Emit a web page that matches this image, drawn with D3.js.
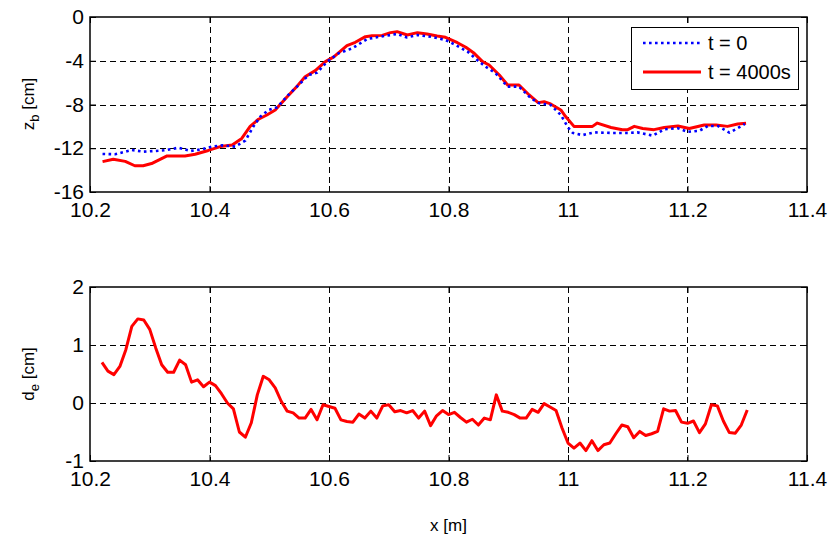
<!DOCTYPE html>
<html><head><meta charset="utf-8">
<script src="https://cdn.jsdelivr.net/npm/d3@7"></script>
<style>
html,body{margin:0;padding:0;background:#fff;}
svg{display:block;font-family:"Liberation Sans",Arial,Helvetica,sans-serif;}
</style></head>
<body><svg id="c" width="834" height="544"></svg>
<script>
// ---------- data ----------
const xTicks = [10.2, 10.4, 10.6, 10.8, 11, 11.2, 11.4];
const xTickLabels = ["10.2", "10.4", "10.6", "10.8", "11", "11.2", "11.4"];
const zTicks = [0, -4, -8, -12, -16];
const zTickLabels = ["0", "-4", "-8", "-12", "-16"];
const dTicks = [2, 1, 0, -1];
const dTickLabels = ["2", "1", "0", "-1"];
const legendLabels = ["t = 0", "t = 4000s"];

// bed level t = 0 (blue dotted)
const xZ0 = [10.221,10.242,10.270,10.289,10.309,10.329,10.348,10.368,10.387,10.404,10.421,10.443,10.460,10.474,10.485,10.499,10.513,10.532,10.549,10.566,10.580,10.597,10.616,10.639,10.664,10.686,10.714,10.730,10.748,10.770,10.795,10.812,10.832,10.848,10.862,10.879,10.899,10.918,10.938,10.952,10.971,10.988,11.000,11.008,11.024,11.044,11.072,11.100,11.116,11.142,11.161,11.184,11.200,11.220,11.234,11.251,11.270,11.284,11.296];
const z0 = [-12.52,-12.55,-12.16,-12.31,-12.25,-12.16,-11.95,-12.25,-12.10,-11.85,-11.73,-11.85,-11.30,-9.96,-9.11,-8.50,-8.26,-7.13,-6.22,-5.30,-5.09,-4.08,-3.32,-2.86,-2.01,-1.80,-1.55,-1.86,-1.65,-1.80,-2.10,-2.56,-3.17,-3.93,-4.54,-5.15,-6.37,-6.37,-7.43,-7.89,-8.04,-8.96,-10.10,-10.60,-10.80,-10.55,-10.60,-10.60,-10.55,-10.85,-10.27,-10.17,-10.50,-10.40,-9.96,-9.96,-10.57,-10.17,-9.78];

// bed level t = 4000 s (red solid)
const xZ1 = [10.221,10.239,10.259,10.275,10.289,10.303,10.329,10.359,10.376,10.398,10.418,10.438,10.454,10.468,10.482,10.496,10.510,10.530,10.547,10.560,10.577,10.594,10.608,10.630,10.644,10.661,10.672,10.689,10.703,10.714,10.731,10.748,10.764,10.781,10.795,10.815,10.829,10.843,10.857,10.868,10.885,10.899,10.918,10.935,10.950,10.960,10.971,10.988,10.996,11.010,11.041,11.049,11.072,11.091,11.100,11.111,11.125,11.144,11.161,11.184,11.203,11.228,11.248,11.267,11.284,11.298];
const z1 = [-13.22,-13.00,-13.20,-13.60,-13.60,-13.40,-12.70,-12.70,-12.55,-12.20,-11.85,-11.70,-11.10,-10.00,-9.35,-8.96,-8.50,-7.30,-6.30,-5.46,-4.90,-4.08,-3.65,-2.62,-2.31,-1.80,-1.71,-1.68,-1.43,-1.34,-1.65,-1.43,-1.55,-1.74,-1.86,-2.35,-2.77,-3.32,-4.08,-4.39,-5.30,-6.22,-6.22,-7.13,-7.83,-7.74,-7.95,-8.50,-9.10,-10.00,-10.00,-9.70,-10.10,-10.30,-10.30,-10.00,-10.20,-10.30,-10.10,-9.96,-10.20,-9.87,-9.87,-10.00,-9.78,-9.72];

// erosion depth
const xD = [10.22,10.23,10.24,10.25,10.26,10.27,10.28,10.29,10.30,10.31,10.32,10.33,10.34,10.35,10.36,10.37,10.38,10.39,10.40,10.41,10.42,10.43,10.44,10.45,10.46,10.47,10.48,10.49,10.50,10.51,10.52,10.53,10.54,10.55,10.56,10.57,10.58,10.59,10.60,10.61,10.62,10.63,10.64,10.65,10.66,10.67,10.68,10.69,10.70,10.71,10.72,10.73,10.74,10.75,10.76,10.77,10.78,10.79,10.80,10.81,10.82,10.83,10.84,10.85,10.86,10.87,10.88,10.89,10.90,10.91,10.92,10.93,10.94,10.95,10.96,10.97,10.98,10.99,11.00,11.01,11.02,11.03,11.04,11.05,11.06,11.07,11.08,11.09,11.10,11.11,11.12,11.13,11.14,11.15,11.16,11.17,11.18,11.19,11.20,11.21,11.22,11.23,11.24,11.25,11.26,11.27,11.28,11.29,11.30];
const dE = [0.70,0.55,0.49,0.63,0.92,1.32,1.45,1.43,1.27,0.95,0.66,0.53,0.53,0.74,0.66,0.36,0.40,0.28,0.36,0.30,0.16,0.00,-0.10,-0.50,-0.59,-0.34,0.14,0.46,0.40,0.26,0.03,-0.14,-0.17,-0.26,-0.26,-0.11,-0.29,-0.03,-0.06,-0.09,-0.29,-0.32,-0.33,-0.19,-0.26,-0.14,-0.26,-0.05,-0.03,-0.15,-0.13,-0.17,-0.13,-0.26,-0.14,-0.39,-0.22,-0.13,-0.20,-0.16,-0.25,-0.33,-0.28,-0.38,-0.26,-0.29,0.14,-0.14,-0.16,-0.20,-0.26,-0.26,-0.11,-0.16,-0.01,-0.07,-0.13,-0.43,-0.69,-0.78,-0.69,-0.82,-0.65,-0.82,-0.72,-0.69,-0.53,-0.38,-0.41,-0.60,-0.49,-0.56,-0.53,-0.49,-0.10,-0.14,-0.13,-0.33,-0.35,-0.31,-0.51,-0.36,-0.03,-0.05,-0.31,-0.51,-0.52,-0.38,-0.12];

// ---------- layout ----------
const L = 90, R = 807;
const top1 = 17, bot1 = 192, top2 = 287, bot2 = 461;
const svg = d3.select("#c");
const x = d3.scaleLinear().domain([10.2, 11.4]).range([L, R]);
const yZ = d3.scaleLinear().domain([-16, 0]).range([bot1, top1]);
const yD = d3.scaleLinear().domain([-1, 2]).range([bot2, top2]);

function panel(yScale, yTicks, yLabels, topPx, botPx, id) {
  const g = svg.append("g");
  // grid
  g.append("g").selectAll("line").data(xTicks.slice(1, -1)).join("line")
    .attr("x1", d => Math.round(x(d)) + 0.5).attr("x2", d => Math.round(x(d)) + 0.5)
    .attr("y1", topPx).attr("y2", botPx)
    .attr("stroke", "#000").attr("stroke-width", 1).attr("stroke-dasharray", "6,4");
  g.append("g").selectAll("line").data(yTicks.slice(1, -1)).join("line")
    .attr("y1", d => Math.round(yScale(d)) + 0.5).attr("y2", d => Math.round(yScale(d)) + 0.5)
    .attr("x1", L).attr("x2", R)
    .attr("stroke", "#000").attr("stroke-width", 1).attr("stroke-dasharray", "6,4");
  // axes
  const fmtX = (d, i) => xTickLabels[i];
  const fmtY = (d, i) => yLabels[i];
  const ax = g.append("g").attr("transform", `translate(0,${botPx})`)
    .call(d3.axisBottom(x).tickValues(xTicks).tickFormat(fmtX).tickSize(-6).tickPadding(10));
  const axT = g.append("g").attr("transform", `translate(0,${topPx})`)
    .call(d3.axisTop(x).tickValues(xTicks).tickFormat("").tickSize(-6));
  const ay = g.append("g").attr("transform", `translate(${L},0)`)
    .call(d3.axisLeft(yScale).tickValues(yTicks).tickFormat(fmtY).tickSize(-6).tickPadding(6));
  const ayR = g.append("g").attr("transform", `translate(${R},0)`)
    .call(d3.axisRight(yScale).tickValues(yTicks).tickFormat("").tickSize(-6));
  [ax, axT, ay, ayR].forEach(a => {
    a.selectAll(".domain").remove();
    a.selectAll(".tick line").attr("stroke", "#000").attr("stroke-width", 1);
    a.selectAll("text").attr("font-size", 21).attr("fill", "#000")
      .attr("font-family", '"Liberation Sans",Arial,sans-serif');
  });
  // box
  g.append("rect").attr("x", L).attr("y", topPx).attr("width", R - L).attr("height", botPx - topPx)
    .attr("fill", "none").attr("stroke", "#000").attr("stroke-width", 1.5);
  svg.append("clipPath").attr("id", id).append("rect")
    .attr("x", L).attr("y", topPx).attr("width", R - L).attr("height", botPx - topPx);
}

panel(yZ, zTicks, zTickLabels, top1, bot1, "clip1");
panel(yD, dTicks, dTickLabels, top2, bot2, "clip2");

// top lines
const lineZ0 = d3.line().x((d, i) => x(xZ0[i])).y(d => yZ(d));
const lineZ1 = d3.line().x((d, i) => x(xZ1[i])).y(d => yZ(d));
svg.append("path").datum(z1).attr("d", lineZ1).attr("clip-path", "url(#clip1)")
  .attr("fill", "none").attr("stroke", "#ff0000").attr("stroke-width", 3)
  .attr("stroke-linejoin", "round");
svg.append("path").datum(z0).attr("d", lineZ0).attr("clip-path", "url(#clip1)")
  .attr("fill", "none").attr("stroke", "#0000ff").attr("stroke-width", 2.6)
  .attr("stroke-dasharray", "2.6,3.4");

// bottom line
const lineD = d3.line().x((d, i) => x(xD[i])).y(d => yD(d));
svg.append("path").datum(dE).attr("d", lineD).attr("clip-path", "url(#clip2)")
  .attr("fill", "none").attr("stroke", "#ff0000").attr("stroke-width", 3)
  .attr("stroke-linejoin", "round");

// legend
const lg = svg.append("g");
lg.append("rect").attr("x", 631.5).attr("y", 27.5).attr("width", 167).attr("height", 62)
  .attr("fill", "#fff").attr("stroke", "#000").attr("stroke-width", 1);
const legStyles = [
  {stroke: "#0000ff", dash: "2.6,3.4", w: 2.6},
  {stroke: "#ff0000", dash: null, w: 3}
];
legendLabels.forEach((t, i) => {
  const yy = 43 + i * 29;
  lg.append("line").attr("x1", 643).attr("x2", 701).attr("y1", yy).attr("y2", yy)
    .attr("stroke", legStyles[i].stroke).attr("stroke-width", legStyles[i].w)
    .attr("stroke-dasharray", legStyles[i].dash);
  lg.append("text").attr("x", 708).attr("y", yy).attr("dy", "0.35em")
    .attr("font-size", 20).attr("fill", "#000").text(t);
});

// axis labels
const zl = svg.append("text").attr("transform", "translate(34,104) rotate(-90)")
  .attr("text-anchor", "middle").attr("font-size", 17).attr("fill", "#000");
zl.append("tspan").text("z");
zl.append("tspan").attr("font-size", 13).attr("dy", 5).text("b");
zl.append("tspan").attr("dy", -5).text(" [cm]");

const dl = svg.append("text").attr("transform", "translate(34,374) rotate(-90)")
  .attr("text-anchor", "middle").attr("font-size", 17).attr("fill", "#000");
dl.append("tspan").text("d");
dl.append("tspan").attr("font-size", 13).attr("dy", 5).text("e");
dl.append("tspan").attr("dy", -5).text(" [cm]");

svg.append("text").attr("x", x(10.8)).attr("y", 531).attr("text-anchor", "middle")
  .attr("font-size", 17).attr("fill", "#000").text("x [m]");
</script></body></html>
